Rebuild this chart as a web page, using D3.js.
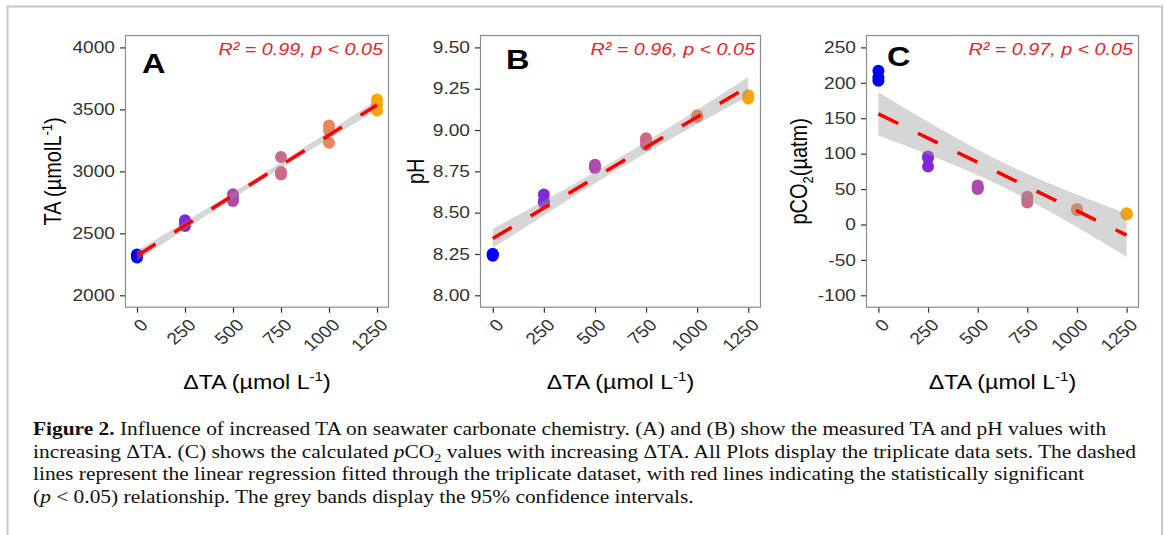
<!DOCTYPE html>
<html>
<head>
<meta charset="utf-8">
<script src="https://cdn.jsdelivr.net/npm/d3@7"></script>
<style>
body { margin: 0; background: #fff; }
svg { display: block; font-family: "Liberation Sans", Arial, sans-serif; }
</style>
</head>
<body>
<svg id="svg" width="1165" height="535"></svg>
<script>
const $svg = d3.select('#svg')

// added alkalinity levels (x axis of every panel)
const deltaTA = [0, 250, 500, 750, 1000, 1250]

// triplicates per level
const taValues = [
	[2305, 2318, 2330],
	[2560, 2585, 2605],
	[2760, 2790, 2815],
	[2975, 2995, 3115],
	[3230, 3330, 3370],
	[3490, 3540, 3580],
]
const phValues = [
	[8.24, 8.25, 8.25],
	[8.56, 8.57, 8.61],
	[8.77, 8.78, 8.79],
	[8.91, 8.93, 8.95],
	[9.08, 9.08, 9.09],
	[9.19, 9.20, 9.21],
]
const pco2Values = [
	[203, 208, 217],
	[82, 94, 96],
	[50, 52, 55],
	[31, 35, 39],
	[20, 21, 22],
	[14, 15, 16],
]

const taTicks = [2000, 2500, 3000, 3500, 4000]
const phTicks = [8.00, 8.25, 8.50, 8.75, 9.00, 9.25, 9.50]
const pco2Ticks = [-100, -50, 0, 50, 100, 150, 200, 250]

const panelLetters = ['A', 'B', 'C']
const statLabels = ['R² = 0.99, p < 0.05', 'R² = 0.96, p < 0.05', 'R² = 0.97, p < 0.05']

const T_95 = 2.1199 // t quantile, df = 16
const SX = 1.16 // the source figure is a bit wider than tall
const SX_CAP = 1.19

const colorScale = d3.scaleLinear()
	.domain([0, 1250])
	.range(['#0000ff', '#ffa500'])
	.interpolate(d3.interpolateLab)

const expand = ([min, max], f = 0.05) => {
	const pad = (max - min) * f
	return [min - pad, max + pad]
}

const fitLine = points => {
	const n = points.length
	const mx = d3.mean(points, d => d.x)
	const my = d3.mean(points, d => d.y)
	const sxx = d3.sum(points, d => (d.x - mx) ** 2)
	const sxy = d3.sum(points, d => (d.x - mx) * (d.y - my))
	const slope = sxy / sxx
	const icpt = my - slope * mx
	const sse = d3.sum(points, d => (d.y - icpt - slope * d.x) ** 2)
	const s = Math.sqrt(sse / (n - 2))
	return x => {
		const fit = icpt + slope * x
		const se = s * Math.sqrt(1 / n + (x - mx) ** 2 / sxx)
		return { x, fit, lo: fit - T_95 * se, hi: fit + T_95 * se }
	}
}

const addText = (parent, x, y, extra = '', sx = SX) => {
	return parent.append('text')
		.attr('transform', `translate(${x},${y}) scale(${sx},1)${extra}`)
}

const panels = [
	{ values: taValues, ticks: taTicks, fmt: d3.format('d'), left: 125, right: 389,
	  yTitleX: 61, letterX: 142, letterY: 73 },
	{ values: phValues, ticks: phTicks, fmt: d3.format('.2f'), left: 480, right: 761,
	  yTitleX: 424, letterX: 506, letterY: 69 },
	{ values: pco2Values, ticks: pco2Ticks, fmt: d => String(d), left: 866, right: 1139,
	  yTitleX: 807, letterX: 887, letterY: 66 },
]

const TOP = 35
const BOTTOM = 307.7

// page frame
$svg.append('path')
	.attr('d', 'M7.5,535 V6.5 H1162 V535')
	.attr('fill', 'none')
	.attr('stroke', '#c8c8c8')
	.attr('stroke-width', 2)

panels.forEach((p, i) => {
	const g = $svg.append('g')
	const x = d3.scaleLinear().domain(expand([0, 1250])).range([p.left, p.right])
	const y = d3.scaleLinear().domain(expand(d3.extent(p.ticks))).range([BOTTOM, TOP])

	const points = p.values.flatMap((vals, k) => vals.map(v => ({ x: deltaTA[k], y: v })))
	const model = fitLine(points)
	const band = d3.range(0, 1251, 12.5).map(model)

	g.selectAll('circle')
		.data(points)
		.join('circle')
		.attr('cx', d => x(d.x))
		.attr('cy', d => y(d.y))
		.attr('r', 6)
		.attr('fill', d => colorScale(d.x))

	g.append('path')
		.attr('d', d3.area().x(d => x(d.x)).y0(d => y(d.lo)).y1(d => y(d.hi))(band))
		.attr('fill', '#999999')
		.attr('fill-opacity', 0.4)

	g.append('path')
		.attr('d', d3.line().x(d => x(d.x)).y(d => y(d.fit))([band[0], band[band.length - 1]]))
		.attr('fill', 'none')
		.attr('stroke', '#ff0000')
		.attr('stroke-width', 3.5)
		.attr('stroke-dasharray', '22,22')

	g.append('rect')
		.attr('x', p.left + 0.5)
		.attr('y', TOP + 0.5)
		.attr('width', p.right - p.left - 1)
		.attr('height', BOTTOM - TOP - 1)
		.attr('fill', 'none')
		.attr('stroke', '#8c8c8c')
		.attr('stroke-width', 1.2)

	const yAxis = g.append('g')
		.attr('transform', `translate(${p.left},0)`)
		.call(d3.axisLeft(y).tickValues(p.ticks).tickFormat(p.fmt).tickSize(5))
	const xAxis = g.append('g')
		.attr('transform', `translate(0,${BOTTOM})`)
		.call(d3.axisBottom(x).tickValues(deltaTA).tickFormat(d3.format('d')).tickSize(5))

	;[yAxis, xAxis].forEach(ax => {
		ax.select('.domain').remove()
		ax.selectAll('line').attr('stroke', '#333').attr('stroke-width', 1.2)
		ax.selectAll('text').attr('fill', '#333').attr('font-size', 16.5)
			.attr('font-family', '"Liberation Sans", Arial, sans-serif')
			.attr('x', 0).attr('y', 0)
	})
	yAxis.selectAll('text')
		.attr('transform', `translate(-10,0) scale(${SX},1)`)
	xAxis.selectAll('text')
		.attr('dy', '0.71em')
		.attr('text-anchor', 'end')
		.attr('transform', `translate(2,10) scale(${SX},1) rotate(-45)`)

	// panel letter and stats
	addText(g, p.letterX, p.letterY)
		.attr('font-size', 28).attr('font-weight', 'bold')
		.text(panelLetters[i])
	addText(g, p.right - 6, 55)
		.attr('text-anchor', 'end')
		.attr('font-size', 17).attr('font-style', 'italic')
		.attr('fill', '#ee1c25')
		.text(statLabels[i])

	// x title
	const xt = addText(g, (p.left + p.right) / 2, 389)
		.attr('text-anchor', 'middle').attr('font-size', 20)
	xt.append('tspan').text('ΔTA (µmol L')
	xt.append('tspan').attr('font-size', 13).attr('dy', -8).text('-1')
	xt.append('tspan').attr('dy', 8).text(')')

	// y title
	const yt = addText(g, p.yTitleX, (TOP + BOTTOM) / 2, ' rotate(-90)')
		.attr('text-anchor', 'middle').attr('font-size', 20)
	if (i === 0) {
		yt.append('tspan').text('TA (µmolL')
		yt.append('tspan').attr('font-size', 13).attr('dy', -8).text('-1')
		yt.append('tspan').attr('dy', 8).text(')')
	} else if (i === 2) {
		yt.append('tspan').text('pCO')
		yt.append('tspan').attr('font-size', 13).attr('dy', 5).text('2')
		yt.append('tspan').attr('dy', -5).text('(µatm)')
	} else {
		yt.text('pH')
	}
})

// caption
const captionLines = [
	[['Figure 2.', 'b'], [' Influence of increased TA on seawater carbonate chemistry. (A) and (B) show the measured TA and pH values with']],
	[['increasing ΔTA. (C) shows the calculated '], ['p', 'i'], ['CO'], ['2', 'sub'], [' values with increasing ΔTA. All Plots display the triplicate data sets. The dashed', 'after']],
	[['lines represent the linear regression fitted through the triplicate dataset, with red lines indicating the statistically significant']],
	[['('], ['p', 'i'], [' < 0.05) relationship. The grey bands display the 95% confidence intervals.']],
]
const cap = $svg.append('g')
	.attr('font-family', '"Liberation Serif", "Times New Roman", serif')
	.attr('font-size', 18)
	.attr('fill', '#111')
captionLines.forEach((parts, li) => {
	const t = addText(cap, 33, 435 + li * 22.7, '', SX_CAP)
	parts.forEach(([str, kind]) => {
		const s = t.append('tspan').text(str)
		if (kind === 'b') s.attr('font-weight', 'bold')
		if (kind === 'i') s.attr('font-style', 'italic')
		if (kind === 'sub') s.attr('font-size', 12).attr('dy', 4)
		if (kind === 'after') s.attr('dy', -4)
	})
})
</script>
</body>
</html>
